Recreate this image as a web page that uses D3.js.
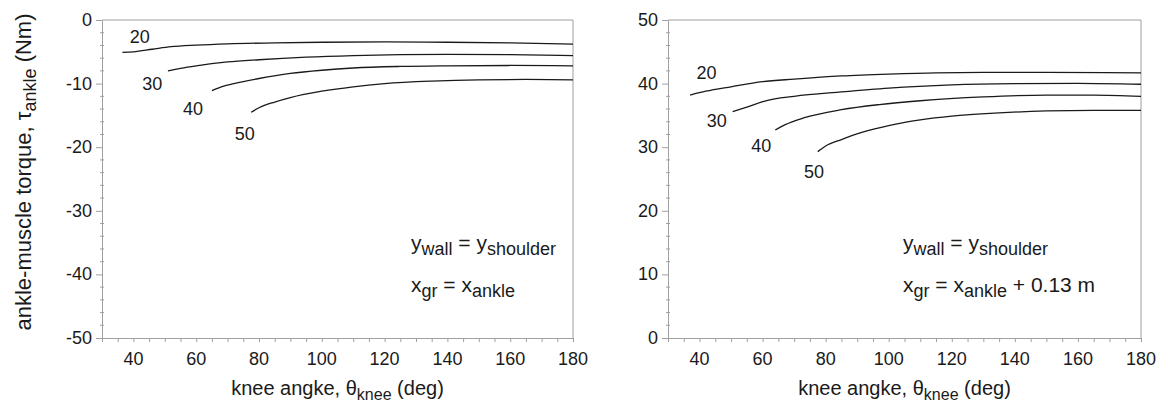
<!DOCTYPE html>
<html>
<head>
<meta charset="utf-8">
<script src="https://cdn.jsdelivr.net/npm/d3@7"></script>
<style>
  body { margin: 0; background: #fff; }
  svg { font-family: "Liberation Sans", Arial, sans-serif; }
  .tick-label { font-size: 18px; fill: #1a1a1a; }
  .title { font-size: 20px; fill: #1a1a1a; }
  .note { font-size: 21px; fill: #1a1a1a; }
  .curve { fill: none; stroke: #1a1a1a; stroke-width: 1.3; }
</style>
</head>
<body>
<svg width="1164" height="412"></svg>
<script>
// tick labels
const xTicks = [40, 60, 80, 100, 120, 140, 160, 180];
const leftYTicks = [0, -10, -20, -30, -40, -50];
const rightYTicks = [0, 10, 20, 30, 40, 50];
const curveNames = ["20", "30", "40", "50"];

// left panel: ankle-muscle torque (Nm) vs knee angle (deg)
const left20 = [[36.5, -5.1], [40, -5.0], [46, -4.6], [52, -4.2], [60, -3.95], [70, -3.75], [85, -3.6], [100, -3.5], [120, -3.45], [140, -3.5], [160, -3.6], [180, -3.8]];
const left30 = [[51, -8.0], [55, -7.6], [60, -7.2], [70, -6.6], [80, -6.25], [95, -5.85], [110, -5.6], [125, -5.45], [140, -5.4], [160, -5.45], [180, -5.6]];
const left40 = [[65, -11.1], [68, -10.5], [72, -10.0], [80, -9.2], [90, -8.4], [100, -7.9], [110, -7.55], [125, -7.3], [140, -7.2], [160, -7.15], [180, -7.2]];
const left50 = [[77.5, -14.5], [80, -13.8], [85, -12.9], [90, -12.2], [100, -11.2], [110, -10.5], [120, -10.0], [135, -9.6], [150, -9.4], [165, -9.35], [180, -9.4]];

// right panel
const right20 = [[37, 38.2], [42, 38.8], [50, 39.5], [60, 40.3], [70, 40.7], [85, 41.2], [100, 41.5], [115, 41.7], [130, 41.75], [150, 41.75], [180, 41.7]];
const right30 = [[50.5, 35.6], [55, 36.3], [61, 37.3], [70, 38.0], [85, 38.7], [100, 39.3], [120, 39.8], [140, 40.0], [160, 40.05], [180, 39.9]];
const right40 = [[64, 32.7], [67, 33.5], [73, 34.6], [85, 35.9], [97, 36.7], [110, 37.3], [130, 37.9], [150, 38.2], [165, 38.2], [180, 38.0]];
const right50 = [[77.5, 29.3], [80, 30.2], [85, 31.2], [92, 32.4], [100, 33.4], [110, 34.3], [120, 34.9], [135, 35.4], [150, 35.7], [165, 35.8], [180, 35.8]];

// where the curve numbers sit (data units)
const leftLabelAt = [[42, -2.6], [46, -10], [59, -14], [75.5, -17.9]];
const rightLabelAt = [[42.2, 41.7], [45.5, 34.1], [59.6, 30.2], [76.3, 26.1]];

const svg = d3.select("svg");
const plotTop = 20, plotBottom = 338;
const axisColor = "#a0a0a0";

function panel(x0, x1, yDomain, yTicks, curves, labelAt, note) {
  const x = d3.scaleLinear().domain([30, 180]).range([x0, x1]);
  const y = d3.scaleLinear().domain(yDomain).range([plotBottom, plotTop]);
  const g = svg.append("g");

  // frame: top and right borders
  g.append("path")
    .attr("d", `M${x0},${plotTop}H${x1}V${plotBottom}`)
    .attr("fill", "none")
    .attr("stroke", axisColor);

  // x axis
  const xAxis = g.append("g").attr("transform", `translate(0,${plotBottom})`)
    .call(d3.axisBottom(x).tickValues(d3.range(30, 181, 5)).tickSize(4).tickFormat(""));
  xAxis.select(".domain").attr("stroke", axisColor);
  xAxis.selectAll(".tick line").attr("stroke", axisColor);
  g.selectAll(".xl").data(xTicks).join("text")
    .attr("class", "tick-label")
    .attr("x", (d) => x(d))
    .attr("y", plotBottom + 27)
    .attr("text-anchor", "middle")
    .text((d) => d);

  // y axis: minor ticks cross the axis, majors point out
  const yAxis = g.append("g").attr("transform", `translate(${x0},0)`)
    .call(d3.axisLeft(y).tickValues(yTicks).tickSize(6).tickFormat(""));
  yAxis.select(".domain").attr("stroke", axisColor);
  yAxis.selectAll(".tick line").attr("stroke", axisColor);
  const minor = d3.range(yDomain[0], yDomain[1] + 0.1, 2).filter((v) => v % 10 !== 0);
  g.selectAll(".ym").data(minor).join("line")
    .attr("x1", x0 - 2).attr("x2", x0 + 2)
    .attr("y1", (d) => y(d)).attr("y2", (d) => y(d))
    .attr("stroke", axisColor);
  g.selectAll(".yl").data(yTicks).join("text")
    .attr("class", "tick-label")
    .attr("x", x0 - 10)
    .attr("y", (d) => y(d) + 6)
    .attr("text-anchor", "end")
    .text((d) => d);

  const line = d3.line()
    .x((d) => x(d[0]))
    .y((d) => y(d[1]))
    .curve(d3.curveMonotoneX);
  g.selectAll(".curve").data(curves).join("path")
    .attr("class", "curve")
    .attr("d", line);

  g.selectAll(".cl").data(labelAt).join("text")
    .attr("class", "tick-label")
    .attr("x", (d) => x(d[0]))
    .attr("y", (d) => y(d[1]) + 6)
    .attr("text-anchor", "middle")
    .text((d, i) => curveNames[i]);

  // x title
  const xt = g.append("text").attr("class", "title")
    .attr("x", (x0 + x1) / 2).attr("y", 395).attr("text-anchor", "middle");
  xt.append("tspan").text("knee angke, θ");
  xt.append("tspan").attr("font-size", 16).attr("dy", 5).text("knee");
  xt.append("tspan").attr("dy", -5).text(" (deg)");

  // note lines
  note.forEach((parts, i) => {
    const t = g.append("text").attr("class", "note")
      .attr("x", note.x).attr("y", 250 + i * 42);
    parts.forEach((p) => {
      const s = t.append("tspan").text(p.t);
      if (p.sub) s.attr("font-size", 18).attr("dy", 5);
      else if (p.back) s.attr("dy", -5);
    });
  });
  return g;
}

const leftNote = [
  [{ t: "y" }, { t: "wall", sub: true }, { t: " = y", back: true }, { t: "shoulder", sub: true }],
  [{ t: "x" }, { t: "gr", sub: true }, { t: " = x", back: true }, { t: "ankle", sub: true }]
];
leftNote.x = 411;
const rightNote = [
  [{ t: "y" }, { t: "wall", sub: true }, { t: " = y", back: true }, { t: "shoulder", sub: true }],
  [{ t: "x" }, { t: "gr", sub: true }, { t: " = x", back: true }, { t: "ankle", sub: true }, { t: " + 0.13 m", back: true }]
];
rightNote.x = 903;

panel(102, 573, [-50, 0], leftYTicks, [left20, left30, left40, left50], leftLabelAt, leftNote);
panel(668, 1141, [0, 50], rightYTicks, [right20, right30, right40, right50], rightLabelAt, rightNote);

// y title on the left panel only
const yt = svg.append("text")
  .attr("font-size", 22)
  .attr("fill", "#1a1a1a")
  .attr("transform", "translate(31,172) rotate(-90)")
  .attr("text-anchor", "middle");
yt.append("tspan").text("ankle-muscle torque, τ");
yt.append("tspan").attr("font-size", 18).attr("dy", 5).text("ankle");
yt.append("tspan").attr("dy", -5).text(" (Nm)");
</script>
</body>
</html>
